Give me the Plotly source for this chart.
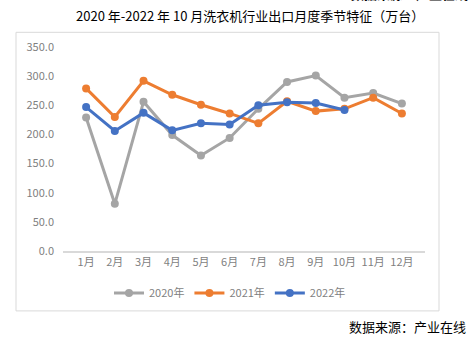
import plotly.graph_objects as go

months = ["1月", "2月", "3月", "4月", "5月", "6月", "7月", "8月", "9月", "10月", "11月", "12月"]
s2020 = [229, 81, 256, 199, 164, 194, 244, 290, 301, 263, 271, 253]
s2021 = [279, 230, 292, 268, 251, 236, 219, 257, 240, 244, 263, 236]
s2022 = [247, 206, 237, 207, 219, 217, 250, 255, 254, 242]
yticks = [0, 50, 100, 150, 200, 250, 300, 350]

FONT = "Noto Sans CJK SC"
series = [("2020年", s2020, "#A5A5A5"), ("2021年", s2021, "#ED7D31"), ("2022年", s2022, "#4472C4")]

fig = go.Figure()
for name, vals, col in series:
    fig.add_trace(go.Scatter(x=months[:len(vals)], y=vals, name=name, mode="lines+markers",
                             line=dict(color=col, width=3), marker=dict(color=col, size=8)))

L, R, T, B = 63, 425, 46.7, 251
W, H = 472, 348
pw, ph = R - L, B - T

def px(x):
    return (x - L) / pw

def py(y):
    return (B - y) / ph

fig.update_layout(
    width=W, height=H,
    margin=dict(l=L, r=W - R, t=T, b=H - B),
    paper_bgcolor="white", plot_bgcolor="white",
    font=dict(family=FONT, color="#7F7F7F", size=11),
    showlegend=True,
    legend=dict(orientation="h", x=px(230), xanchor="center", y=py(293), yanchor="middle",
                font=dict(size=11, color="#7F7F7F"), itemwidth=30, tracegroupgap=0,
                bgcolor="rgba(0,0,0,0)"),
    xaxis=dict(showline=True, linecolor="#D9D9D9", linewidth=1.5, showgrid=False,
               ticks="", tickfont=dict(size=11, color="#7F7F7F"), fixedrange=True),
    yaxis=dict(range=[0, 350], tickvals=yticks, ticktext=[f"{v:.1f}" for v in yticks],
               showgrid=False, zeroline=False, showline=False, ticks="",
               ticklabelstandoff=8, tickfont=dict(size=11, color="#7F7F7F")),
    shapes=[dict(type="rect", xref="paper", yref="paper", x0=px(16), x1=px(439),
                 y0=py(311), y1=py(32), line=dict(color="#D9D9D9", width=1), layer="below")],
    annotations=[
        dict(text="2020 年-2022 年 10 月洗衣机行业出口月度季节特征（万台）", xref="paper", yref="paper",
             x=px(249.5), y=py(15), xanchor="center", yanchor="middle", showarrow=False,
             font=dict(size=13, color="#000000", family=FONT)),
        dict(text="数据来源：产业在线", xref="paper", yref="paper", x=px(468), y=py(327),
             xanchor="right", yanchor="middle", showarrow=False,
             font=dict(size=13, color="#000000", family=FONT)),
        dict(text="<b>数据来源：产业在线</b>", xref="paper", yref="paper", x=px(470), y=py(5),
             xanchor="right", yanchor="bottom", showarrow=False,
             font=dict(size=13, color="#000000", family=FONT)),
    ],
)
fig.write_html("out.html")
